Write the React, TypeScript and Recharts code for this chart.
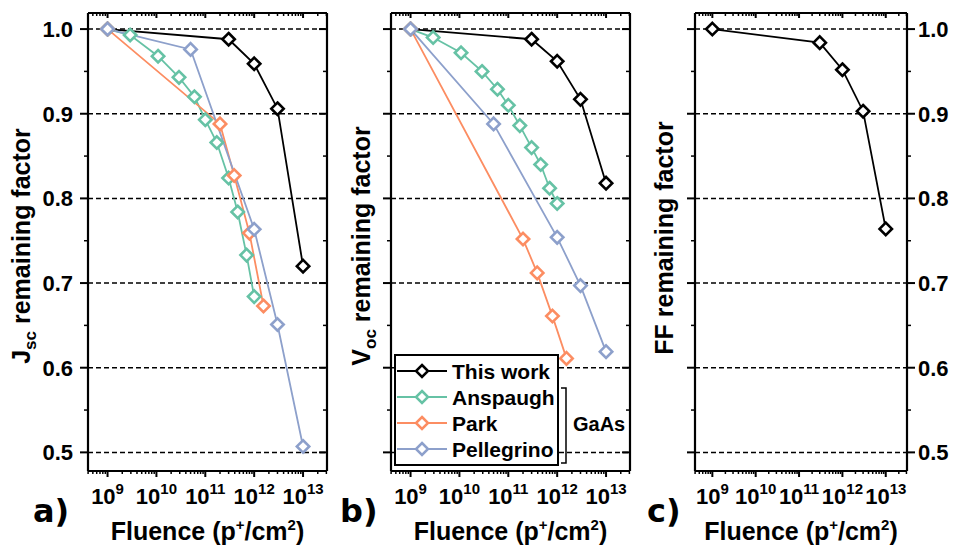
import React from 'react';
import { LineChart, Line, XAxis, YAxis, ReferenceLine, Legend, Label } from 'recharts';

// ---------------- data ----------------
const thisWorkFluence = [1e9, 3e11, 1e12, 3e12, 1e13];
const thisWorkJsc = [1.0, 0.988, 0.959, 0.906, 0.72];
const thisWorkVoc = [1.0, 0.988, 0.962, 0.917, 0.818];
const thisWorkFF = [1.0, 0.984, 0.952, 0.903, 0.764];

const anspaughFluence = [1e9, 2.9e9, 1.08e10, 2.9e10, 6e10, 1e11, 1.72e11, 3e11, 4.6e11, 7e11, 1e12];
const anspaughJsc = [1.0, 0.993, 0.968, 0.943, 0.92, 0.893, 0.866, 0.824, 0.784, 0.733, 0.684];
const anspaughVoc = [1.0, 0.99, 0.972, 0.95, 0.929, 0.91, 0.886, 0.86, 0.84, 0.812, 0.794];

const parkFluence = [1e9, 2e11, 3.9e11, 8e11, 1.55e12];
const parkJsc = [1.0, 0.888, 0.827, 0.759, 0.673];
const parkVoc = [1.0, 0.752, 0.712, 0.661, 0.611];

const pellegrinoFluence = [1e9, 5e10, 1e12, 3e12, 1e13];
const pellegrinoJsc = [1.0, 0.976, 0.7635, 0.651, 0.507];
const pellegrinoVoc = [1.0, 0.888, 0.754, 0.697, 0.619];

const seriesNames = ['This work', 'Anspaugh', 'Park', 'Pellegrino'];
const seriesColors = ['#000000', '#66c2a5', '#fc8d62', '#8da0cb'];
const groupLabel = 'GaAs';

const xMajorExponents = [9, 10, 11, 12, 13];
const yMajorTicks = [0.5, 0.6, 0.7, 0.8, 0.9, 1.0];
const yMinorTicks = [0.55, 0.65, 0.75, 0.85, 0.95];
const xTitle = 'Fluence (p';

// ---------------- layout ----------------
const W = 955;
const H = 549;
const PLOT_TOP = 13;
const PLOT_BOTTOM = 471;
const FONT = '"Liberation Sans", Arial, Helvetica, sans-serif';
const X_DOMAIN: [number, number] = [Math.pow(10, 8.6), Math.pow(10, 13.49)];
const Y_DOMAIN: [number, number] = [0.478, 1.019];

const xTicks: number[] = [];
for (let d = 8; d <= 13; d++) {
  for (let k = 1; k <= 9; k++) {
    const v = k * Math.pow(10, d);
    if (v >= X_DOMAIN[0] && v <= X_DOMAIN[1]) xTicks.push(v);
  }
}
const yTicks = [...yMajorTicks, ...yMinorTicks].sort((a, b) => a - b);

const zip = (xs: number[], ys: number[]) => xs.map((x, i) => ({ x, y: ys[i] }));

const diamondPath = (cx: number, cy: number, r: number) =>
  `M${cx},${cy - r}L${cx + r},${cy}L${cx},${cy + r}L${cx - r},${cy}Z`;

const makeDot = (color: string) => (props: any) => {
  const { cx, cy, index } = props;
  if (cx == null || cy == null) return <g key={`d${index}`} />;
  return (
    <path key={`d${index}`} d={diamondPath(cx, cy, 6.2)} fill="#fff" stroke={color} strokeWidth={2.6} />
  );
};

const isMajorX = (v: number) => {
  const e = Math.log10(v);
  return Math.abs(e - Math.round(e)) < 1e-6;
};
const isMajorY = (v: number) => Math.abs(v * 10 - Math.round(v * 10)) < 1e-6;

const bottomTick = (props: any) => {
  const { x, y, payload } = props;
  const v = payload.value;
  const major = isMajorX(v);
  const e = Math.round(Math.log10(v));
  return (
    <g>
      <line x1={x} x2={x} y1={y} y2={y + (major ? 6 : 3)} stroke="#000" strokeWidth={major ? 2 : 1.5} />
      {major && xMajorExponents.includes(e) && (
        <text x={x} y={y + 33} textAnchor="middle" fontFamily={FONT} fontWeight="bold" fontSize={22} fill="#000">
          10
          <tspan dy={-10} fontSize={15}>{e}</tspan>
        </text>
      )}
    </g>
  );
};

const topTick = (props: any) => {
  const { x, y, payload } = props;
  const major = isMajorX(payload.value);
  return <line x1={x} x2={x} y1={y} y2={y + (major ? 5 : 3)} stroke="#000" strokeWidth={major ? 2 : 1.5} />;
};

const makeYTick = (side: 'left' | 'right', outward: boolean, showLabel: boolean) => (props: any) => {
  const { x, y, payload } = props;
  const v = payload.value;
  const major = isMajorY(v);
  const len = major ? 8 : 4;
  const dir = (side === 'left' ? -1 : 1) * (outward ? 1 : -1);
  return (
    <g>
      <line x1={x} x2={x + dir * len} y1={y} y2={y} stroke="#000" strokeWidth={major ? 2 : 1.5} />
      {showLabel && major && (
        <text
          x={side === 'left' ? x - 15 : x + 11}
          y={y + 8}
          textAnchor={side === 'left' ? 'end' : 'start'}
          fontFamily={FONT}
          fontWeight="bold"
          fontSize={22}
          fill="#000"
        >
          {v.toFixed(1)}
        </text>
      )}
    </g>
  );
};

const renderLegend = () => (
  <svg width={240} height={120} style={{ display: 'block', overflow: 'visible' }}>
    <rect x={5} y={5} width={163} height={110} fill="#fff" stroke="#000" strokeWidth={2} />
    {seriesNames.map((n, i) => {
      const cy = 21 + i * 26;
      return (
        <g key={n}>
          <line x1={7} x2={57} y1={cy} y2={cy} stroke={seriesColors[i]} strokeWidth={2} />
          <path d={diamondPath(32, cy, 6)} fill="#fff" stroke={seriesColors[i]} strokeWidth={2.5} />
          <text x={62} y={cy + 7.5} fontFamily={FONT} fontWeight="bold" fontSize={21} fill="#000">
            {n}
          </text>
        </g>
      );
    })}
    <path d="M171,38H176V113H171" fill="none" stroke="#000" strokeWidth={1.5} />
    <text x={183} y={81} fontFamily={FONT} fontWeight="bold" fontSize={20} fill="#000">
      {groupLabel}
    </text>
  </svg>
);

type SeriesDef = { name: string; color: string; data: { x: number; y: number }[] };

type PanelProps = {
  left: number;
  right: number;
  series: SeriesDef[];
  titleMain: string;
  titleSub: string;
  titleX: number;
  titleCY: number;
  letter: string;
  letterX: number;
  leftLabels: boolean;
  rightLabels: boolean;
  leftOut: boolean;
  rightOut: boolean;
  legend?: boolean;
};

function Panel(p: PanelProps) {
  const centerX = (p.left + p.right) / 2;
  const xLabel = () => (
    <g>
      <text x={centerX} y={540} textAnchor="middle" fontFamily={FONT} fontWeight="bold" fontSize={25} fill="#000">
        {xTitle}
        <tspan dy={-10} fontSize={15}>+</tspan>
        <tspan dy={10}>/cm</tspan>
        <tspan dy={-10} fontSize={15}>2</tspan>
        <tspan dy={10}>)</tspan>
      </text>
      <text x={p.letterX} y={522} fontFamily='"DejaVu Sans", Verdana, sans-serif' fontWeight="bold" fontSize={32} fill="#000">
        {p.letter}
      </text>
    </g>
  );
  const yLabel = () => (
    <text
      x={p.titleX}
      y={p.titleCY}
      transform={`rotate(-90 ${p.titleX} ${p.titleCY})`}
      textAnchor="middle"
      fontFamily={FONT}
      fontWeight="bold"
      fontSize={25}
      fill="#000"
    >
      {p.titleMain}
      {p.titleSub && (
        <tspan dy={6} fontSize={17}>
          {p.titleSub}
        </tspan>
      )}
      <tspan dy={p.titleSub ? -6 : 0}> remaining factor</tspan>
    </text>
  );
  return (
    <div style={{ position: 'absolute', left: 0, top: 0 }}>
      <LineChart
        width={W}
        height={H}
        margin={{ top: PLOT_TOP - 1, bottom: H - PLOT_BOTTOM - 1, left: p.left - 1, right: W - p.right - 1 }}
      >
        <XAxis
          xAxisId="b"
          dataKey="x"
          type="number"
          scale="log"
          domain={X_DOMAIN}
          allowDataOverflow
          ticks={xTicks}
          interval={0}
          height={1}
          tickSize={0}
          tickMargin={0}
          tickLine={false}
          axisLine={{ stroke: '#000', strokeWidth: 2.2 }}
          tick={bottomTick}
          orientation="bottom"
        >
          <Label content={xLabel} />
        </XAxis>
        <XAxis
          xAxisId="t"
          dataKey="x"
          type="number"
          scale="log"
          domain={X_DOMAIN}
          allowDataOverflow
          ticks={xTicks}
          interval={0}
          height={1}
          tickSize={0}
          tickMargin={0}
          tickLine={false}
          axisLine={{ stroke: '#000', strokeWidth: 2.2 }}
          tick={topTick}
          orientation="top"
        />
        <YAxis
          yAxisId="l"
          type="number"
          domain={Y_DOMAIN}
          allowDataOverflow
          ticks={yTicks}
          interval={0}
          width={1}
          tickSize={0}
          tickMargin={0}
          tickLine={false}
          axisLine={{ stroke: '#000', strokeWidth: 2.2 }}
          tick={makeYTick('left', p.leftOut, p.leftLabels)}
          orientation="left"
        >
          <Label content={yLabel} />
        </YAxis>
        <YAxis
          yAxisId="r"
          type="number"
          domain={Y_DOMAIN}
          allowDataOverflow
          ticks={yTicks}
          interval={0}
          width={1}
          tickSize={0}
          tickMargin={0}
          tickLine={false}
          axisLine={{ stroke: '#000', strokeWidth: 2.2 }}
          tick={makeYTick('right', p.rightOut, p.rightLabels)}
          orientation="right"
        />
        {yMajorTicks.map((v) => (
          <ReferenceLine
            key={`g${v}`}
            xAxisId="b"
            yAxisId="l"
            y={v}
            stroke="#000"
            strokeWidth={1.5}
            strokeDasharray="5 3"
          />
        ))}
        {p.series.map((s) => (
          <Line
            key={s.name}
            xAxisId="b"
            yAxisId="l"
            data={s.data}
            dataKey="y"
            name={s.name}
            stroke={s.color}
            strokeWidth={1.8}
            dot={makeDot(s.color)}
            activeDot={false}
            isAnimationActive={false}
          />
        ))}
        {p.legend && (
          <Legend
            layout="vertical"
            align="center"
            verticalAlign="middle"
            wrapperStyle={{ position: 'absolute', left: 390, top: 350, width: 240, height: 120 }}
            content={renderLegend}
          />
        )}
      </LineChart>
    </div>
  );
}

export default function App() {
  const jscSeries: SeriesDef[] = [
    { name: seriesNames[0], color: seriesColors[0], data: zip(thisWorkFluence, thisWorkJsc) },
    { name: seriesNames[1], color: seriesColors[1], data: zip(anspaughFluence, anspaughJsc) },
    { name: seriesNames[2], color: seriesColors[2], data: zip(parkFluence, parkJsc) },
    { name: seriesNames[3], color: seriesColors[3], data: zip(pellegrinoFluence, pellegrinoJsc) },
  ];
  const vocSeries: SeriesDef[] = [
    { name: seriesNames[0], color: seriesColors[0], data: zip(thisWorkFluence, thisWorkVoc) },
    { name: seriesNames[1], color: seriesColors[1], data: zip(anspaughFluence, anspaughVoc) },
    { name: seriesNames[2], color: seriesColors[2], data: zip(parkFluence, parkVoc) },
    { name: seriesNames[3], color: seriesColors[3], data: zip(pellegrinoFluence, pellegrinoVoc) },
  ];
  const ffSeries: SeriesDef[] = [
    { name: seriesNames[0], color: seriesColors[0], data: zip(thisWorkFluence, thisWorkFF) },
  ];
  return (
    <div style={{ position: 'absolute', left: 0, top: 0, width: W, height: H, background: '#fff', overflow: 'hidden' }}>
      <Panel
        left={88}
        right={327}
        series={jscSeries}
        titleMain="J"
        titleSub="sc"
        titleX={30}
        titleCY={246}
        letter="a)"
        letterX={33}
        leftLabels
        rightLabels={false}
        leftOut
        rightOut={false}
      />
      <Panel
        left={391}
        right={630}
        series={vocSeries}
        titleMain="V"
        titleSub="oc"
        titleX={369.5}
        titleCY={246}
        letter="b)"
        letterX={340}
        leftLabels={false}
        rightLabels={false}
        leftOut
        rightOut={false}
        legend
      />
      <Panel
        left={695}
        right={907}
        series={ffSeries}
        titleMain="FF"
        titleSub=""
        titleX={673}
        titleCY={238}
        letter="c)"
        letterX={647}
        leftLabels={false}
        rightLabels
        leftOut
        rightOut
      />
    </div>
  );
}
